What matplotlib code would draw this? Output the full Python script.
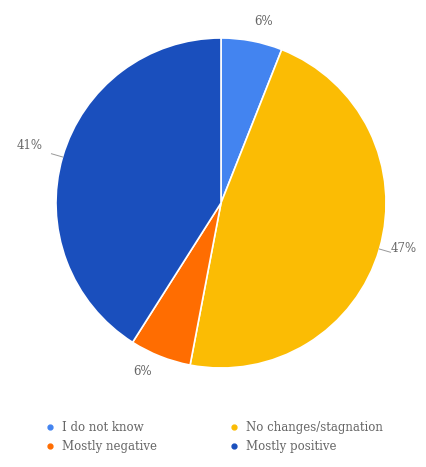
import numpy as np
import matplotlib.pyplot as plt
from matplotlib.lines import Line2D

categories = ["I do not know", "No changes/stagnation", "Mostly negative", "Mostly positive"]
values = [6, 47, 6, 41]
colors = ["#4384f0", "#fbbc04", "#ff6d01", "#1a4fbd"]

W, H = 427, 467
fig = plt.figure(figsize=(W / 100, H / 100), dpi=100)
cx, cy, r = 221, 203, 165
ax = fig.add_axes([(cx - r) / W, (H - cy - r) / H, 2 * r / W, 2 * r / H])

wedges, _ = ax.pie(values, colors=colors, startangle=90, counterclock=False,
                   radius=1, wedgeprops=dict(edgecolor="white", linewidth=1.2))
ax.set_xlim(-1, 1)
ax.set_ylim(-1, 1)
ax.set_aspect("equal")
ax.axis("off")

font = dict(family="DejaVu Serif", fontsize=8.5, color="#666666")
# label placement: radius and angular nudge (degrees) relative to wedge middle
label_r = [1.13, 1.14, 1.13, 1.21]
label_shift = [-2.5, 2.3, -3.4, -0.5]
leader = [False, True, False, True]
for w, v, lr, sh, ld in zip(wedges, values, label_r, label_shift, leader):
    mid = np.deg2rad((w.theta1 + w.theta2) / 2)
    ang = mid + np.deg2rad(sh)
    ax.text(lr * np.cos(ang), lr * np.sin(ang), f"{v}%", ha="center", va="center",
            clip_on=False, **font)
    if ld:
        x, y = np.cos(mid), np.sin(mid)
        ax.plot([1.0 * x, 1.07 * x], [1.0 * y, 1.07 * y], color="#999999", lw=0.7,
                clip_on=False)

handles = [Line2D([], [], marker="o", linestyle="", markersize=3.5,
                  markerfacecolor=c, markeredgecolor=c) for c in colors]
order = [0, 2, 1, 3]
leg = fig.legend([handles[i] for i in order], [categories[i] for i in order],
                 ncol=2, loc="center", bbox_to_anchor=(0.493, 1 - 437 / H),
                 frameon=False, handletextpad=0.0, columnspacing=5.6,
                 labelspacing=0.45, prop=dict(family="DejaVu Serif", size=8.5))
for t in leg.get_texts():
    t.set_color("#666666")

fig.savefig("out.png", dpi=100, facecolor="white")
